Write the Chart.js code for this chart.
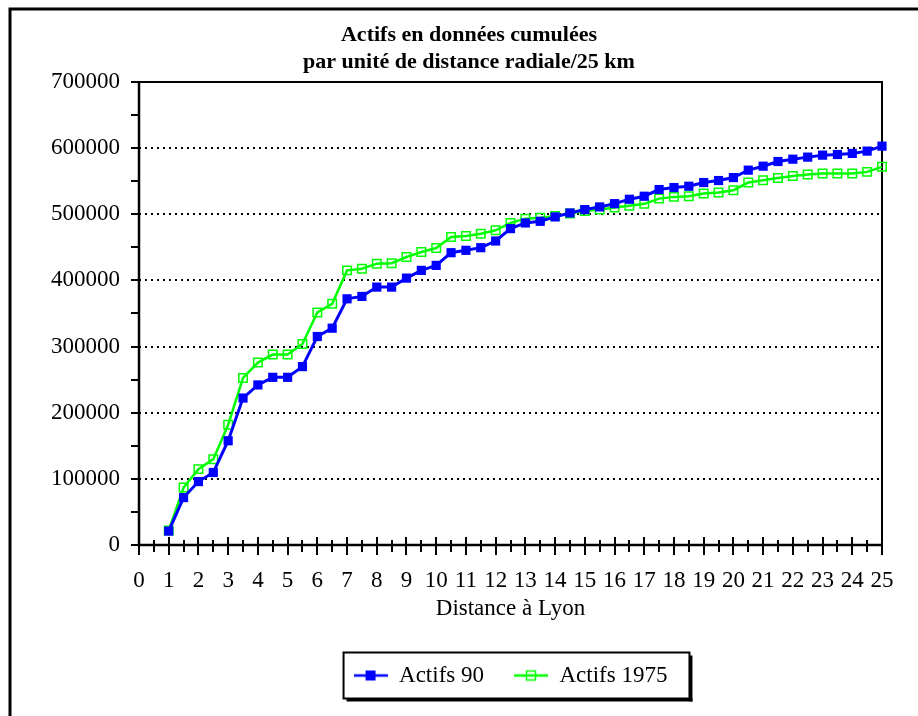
<!DOCTYPE html>
<html>
<head>
<meta charset="utf-8">
<title>Actifs en données cumulées</title>
<script src="https://cdn.jsdelivr.net/npm/chart.js@4/dist/chart.umd.min.js"></script>
<style>
    html, body { margin: 0; padding: 0; background: #fff; }
    #wrap { width: 918px; height: 716px; }
</style>
</head>
<body>
<div id="wrap"><canvas id="chart" width="918" height="716"></canvas></div>
<script>
// Distance à Lyon (unités de 25 km)
const distances = [1, 1.5, 2, 2.5, 3, 3.5, 4, 4.5, 5, 5.5, 6, 6.5, 7, 7.5, 8, 8.5, 9, 9.5, 10,
    10.5, 11, 11.5, 12, 12.5, 13, 13.5, 14, 14.5, 15, 15.5, 16, 16.5, 17, 17.5, 18, 18.5, 19,
    19.5, 20, 20.5, 21, 21.5, 22, 22.5, 23, 23.5, 24, 24.5, 25];

// Actifs cumulés 1990
const actifs90 = [21000, 71700, 95900, 109600, 157600, 222200, 242000, 253500, 253500, 269700,
    315200, 327800, 372200, 375800, 389900, 389900, 403500, 415200, 422700, 441900, 445500,
    449500, 459600, 478300, 486900, 489400, 496000, 502000, 507100, 511100, 516100, 522700,
    527300, 537400, 540400, 542400, 548000, 551000, 555500, 566700, 572700, 579800, 583300,
    586400, 589400, 590400, 592000, 595500, 603000];

// Actifs cumulés 1975
const actifs1975 = [22000, 86800, 114700, 129800, 181800, 252500, 275800, 287900, 287900, 304000,
    351500, 364700, 415200, 417700, 425300, 426000, 435400, 442900, 449000, 465600, 467200,
    470700, 475800, 486900, 493400, 494900, 497500, 501000, 505000, 507100, 510100, 513000,
    515800, 523700, 526300, 527300, 531300, 532800, 536400, 548000, 551500, 555000, 558000,
    560100, 561600, 561600, 561600, 564100, 571700];

const titleLines = ['Actifs en données cumulées', 'par unité de distance radiale/25 km'];
const xTitle = 'Distance à Lyon';
const seriesNames = ['Actifs 90', 'Actifs 1975'];

const BLUE = '#0000ff';
const GREEN = '#00ff00';
const FONT = '"Liberation Serif", "Times New Roman", serif';

/**
 * Small legend icon: a line with a square marker on it
 */
function makeIcon(color, filled) {
    const c = document.createElement('canvas');
    c.width = 34;
    c.height = 14;
    const ctx = c.getContext('2d');
    ctx.strokeStyle = color;
    ctx.lineWidth = 2.5;
    ctx.beginPath();
    ctx.moveTo(0, 7);
    ctx.lineTo(34, 7);
    ctx.stroke();
    if (filled) {
        ctx.fillStyle = color;
        ctx.fillRect(12, 2, 10, 10);
    } else {
        ctx.lineWidth = 1.5;
        ctx.strokeRect(12.5, 2.5, 9, 9);
    }
    return c;
}
const icons = [makeIcon(BLUE, true), makeIcon(GREEN, false)];

/**
 * Frame, dotted grid and tick marks of the plot
 */
const framePlugin = {
    id: 'frame',
    beforeDatasetsDraw(chart) {
        const { ctx, chartArea: a, scales: { x, y } } = chart;
        ctx.save();

        // dotted horizontal grid
        ctx.strokeStyle = '#000';
        ctx.lineWidth = 2;
        ctx.setLineDash([2, 4]);
        y.ticks.forEach(t => {
            if (t.value <= y.min || t.value >= y.max) return;
            const py = Math.round(y.getPixelForValue(t.value));
            ctx.beginPath();
            ctx.moveTo(a.left, py);
            ctx.lineTo(a.right, py);
            ctx.stroke();
        });
        ctx.setLineDash([]);

        // top and right border
        ctx.lineWidth = 2;
        ctx.beginPath();
        ctx.moveTo(a.left, a.top);
        ctx.lineTo(a.right, a.top);
        ctx.lineTo(a.right, a.bottom);
        ctx.stroke();

        // axes
        ctx.lineWidth = 2.5;
        ctx.beginPath();
        ctx.moveTo(a.left, a.top);
        ctx.lineTo(a.left, a.bottom);
        ctx.lineTo(a.right, a.bottom);
        ctx.stroke();

        // y tick marks (major + half steps)
        ctx.lineWidth = 2;
        const yStep = 50000;
        for (let v = y.min; v <= y.max; v += yStep) {
            const py = Math.round(y.getPixelForValue(v));
            ctx.beginPath();
            ctx.moveTo(a.left - 8, py);
            ctx.lineTo(a.left, py);
            ctx.stroke();
        }

        // x tick marks (every half unit, crossing the axis)
        for (let i = 0; i <= (x.max - x.min) * 2; i++) {
            const v = x.min + i / 2;
            const px = Math.round(x.getPixelForValue(v));
            const major = i % 2 === 0;
            ctx.beginPath();
            ctx.moveTo(px, a.bottom - (major ? 8 : 5));
            ctx.lineTo(px, a.bottom + (major ? 10 : 7));
            ctx.stroke();
        }
        ctx.restore();
    },
    afterDraw(chart) {
        const { ctx } = chart;
        ctx.save();

        // outer frame
        ctx.strokeStyle = '#000';
        ctx.lineWidth = 3;
        ctx.beginPath();
        ctx.moveTo(10, chart.height);
        ctx.lineTo(10, 9);
        ctx.lineTo(chart.width, 9);
        ctx.stroke();

        // legend box with shadow
        const boxes = chart.legend.legendHitBoxes;
        if (boxes && boxes.length) {
            const first = boxes[0];
            const last = boxes[boxes.length - 1];
            const left = first.left - 10;
            const right = last.left + last.width + 22;
            const top = first.top + first.height / 2 - 23;
            const bottom = first.top + first.height / 2 + 23;
            ctx.fillStyle = '#000';
            ctx.fillRect(left + 3, bottom, right - left, 3);
            ctx.fillRect(right, top + 3, 3, bottom - top);
            ctx.lineWidth = 2;
            ctx.strokeRect(left, top, right - left, bottom - top);
        }
        ctx.restore();
    }
};

const datasets = [
    {
        label: seriesNames[0],
        data: distances.map((d, i) => ({ x: d, y: actifs90[i] })),
        borderColor: BLUE,
        backgroundColor: BLUE,
        borderWidth: 3,
        pointStyle: 'rect',
        pointRadius: 6.5,
        pointBackgroundColor: BLUE,
        pointBorderColor: BLUE,
        pointBorderWidth: 0,
        tension: 0,
        clip: false
    },
    {
        label: seriesNames[1],
        data: distances.map((d, i) => ({ x: d, y: actifs1975[i] })),
        borderColor: GREEN,
        backgroundColor: GREEN,
        borderWidth: 2.5,
        pointStyle: 'rect',
        pointRadius: 6,
        pointBackgroundColor: 'rgba(0,0,0,0)',
        pointBorderColor: GREEN,
        pointBorderWidth: 1.5,
        tension: 0,
        clip: false
    }
];

new Chart(document.getElementById('chart').getContext('2d'), {
    type: 'line',
    data: { datasets },
    plugins: [framePlugin],
    options: {
        responsive: false,
        animation: false,
        devicePixelRatio: 1,
        layout: { padding: { left: 40, right: 20, top: 0, bottom: 19 } },
        scales: {
            x: {
                type: 'linear',
                min: 0,
                max: 25,
                grid: { display: false, drawTicks: false },
                border: { display: false },
                ticks: {
                    stepSize: 1,
                    padding: 22,
                    color: '#000',
                    font: { family: FONT, size: 23 },
                    maxRotation: 0,
                    autoSkip: false
                },
                title: {
                    display: true,
                    text: xTitle,
                    color: '#000',
                    font: { family: FONT, size: 23 },
                    padding: { top: 0, bottom: 11 }
                },
                afterFit(scale) {
                    scale.height = 89;
                }
            },
            y: {
                min: 0,
                max: 700000,
                grid: { display: false, drawTicks: false },
                border: { display: false },
                ticks: {
                    stepSize: 100000,
                    padding: 19,
                    color: '#000',
                    font: { family: FONT, size: 23 },
                    callback: value => String(value)
                },
                afterFit(scale) {
                    scale.width = 99;
                }
            },
            // empty right-hand margin so the title centres like the original
            yRight: {
                position: 'right',
                min: 0,
                max: 1,
                grid: { display: false, drawTicks: false },
                border: { display: false },
                ticks: { display: false },
                afterFit(scale) {
                    scale.width = 16;
                }
            }
        },
        plugins: {
            title: {
                display: true,
                text: titleLines,
                color: '#000',
                font: { family: FONT, size: 22, weight: 'bold', lineHeight: 1.227 },
                padding: { top: 21.5, bottom: 6.5 }
            },
            legend: {
                position: 'bottom',
                fullSize: false,
                labels: {
                    usePointStyle: true,
                    pointStyleWidth: 34,
                    padding: 30,
                    color: '#000',
                    font: { family: FONT, size: 23 },
                    generateLabels: chart => chart.data.datasets.map((ds, i) => ({
                        text: ds.label,
                        pointStyle: icons[i],
                        fillStyle: ds.borderColor,
                        strokeStyle: ds.borderColor,
                        lineWidth: 0,
                        hidden: false,
                        datasetIndex: i,
                        fontColor: '#000'
                    }))
                }
            },
            tooltip: { enabled: false }
        }
    }
});
</script>
</body>
</html>
